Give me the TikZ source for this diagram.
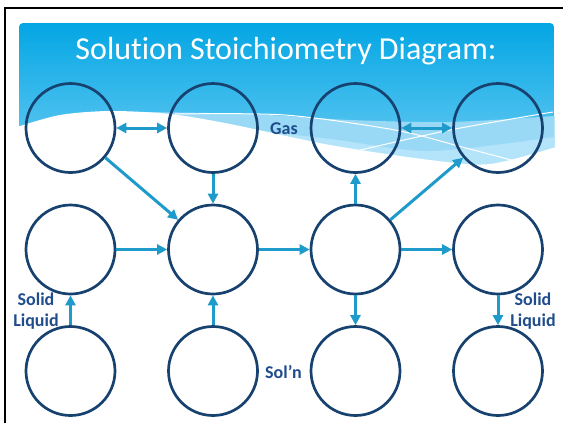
\documentclass[tikz,border=0pt]{standalone}
\usepackage{fontspec}
\setmainfont{Carlito}[Ligatures=NoCommon]
\usetikzlibrary{arrows.meta}
\definecolor{ringblue}{HTML}{17426F}
\definecolor{arrowblue}{HTML}{1E9ACB}
\definecolor{labelblue}{HTML}{1F4C8C}
\definecolor{bannertop}{HTML}{03A6E4}
\definecolor{bannerlow}{HTML}{74CFF4}
\definecolor{bandblue}{HTML}{9AD9F6}
\definecolor{bandpale}{HTML}{B4E4FA}
\tikzset{
  ring/.style={circle, draw=ringblue, line width=2.7pt, minimum size=89pt, inner sep=0pt},
  flow/.style={draw=arrowblue, line width=3pt, -{Triangle[length=10pt,width=10pt]}},
  twoway/.style={flow, {Triangle[length=10pt,width=10pt]}-{Triangle[length=10pt,width=10pt]}},
  tag/.style={text=labelblue, font=\bfseries\fontsize{18}{21}\selectfont, align=center, inner sep=0pt},
}
\begin{document}
\begin{tikzpicture}[x=1pt,y=-1pt]
\useasboundingbox (0,0) rectangle (565,423);
\shade[top color=bannertop, bottom color=bannerlow, rounded corners=4pt] (19,23) rectangle (554,178);
\fill[bandblue] plot[smooth] coordinates {(140,112) (250,114) (350,120) (450,122) (554.5,116)} -- (554.5,170) -- (140,170) -- cycle;
\fill[bandpale] plot[smooth] coordinates {(200,124) (330,139) (430,151) (554.5,137)} -- (554.5,170) -- (200,170) -- cycle;
\fill[white] plot[smooth] coordinates {(17,127) (60,115) (110,111) (170,114) (230,124) (330,145) (430,160) (490,164) (556,147)} -- (556,182) -- (17,182) -- cycle;
\draw[white, line width=1pt] plot[smooth] coordinates {(175,114) (285,115) (395,130) (462,147) (515,161)};
\draw[white, line width=1pt] plot[smooth] coordinates {(352,152) (450,130) (553,112)};
\draw[black, line width=2pt] (5,423) -- (5,7.5) -- (563,7.5);
\node[text=white, font=\fontsize{32}{38}\selectfont] (title) at (286,51) {Solution Stoichiometry Diagram:};
\node[ring] (g1) at (70.5,128) {};
\node[ring] (g2) at (213,128) {};
\node[ring] (g3) at (355.5,128) {};
\node[ring] (g4) at (498,128) {};
\node[ring] (m1) at (70.5,249.5) {};
\node[ring] (m2) at (213,249.5) {};
\node[ring] (m3) at (355.5,249.5) {};
\node[ring] (m4) at (498,249.5) {};
\node[ring] (s1) at (70.5,371) {};
\node[ring] (s2) at (213,371) {};
\node[ring] (s3) at (355.5,371) {};
\node[ring] (s4) at (498,371) {};
\draw[twoway] (g1) -- (g2);
\draw[twoway] (g3) -- (g4);
\draw[flow] (g1) -- (m2);
\draw[flow] (g2) -- (m2);
\draw[flow] (m3) -- (g3);
\draw[flow] (m3) -- (g4);
\draw[flow] (m1) -- (m2);
\draw[flow] (m2) -- (m3);
\draw[flow] (m3) -- (m4);
\draw[flow] (s1) -- (m1);
\draw[flow] (s2) -- (m2);
\draw[flow] (m3) -- (s3);
\draw[flow] (m4) -- (s4);
\node[tag] (gas) at (284,129) {Gas};
\node[tag] (phaseL) at (36,311) {Solid\\Liquid};
\node[tag] (phaseR) at (533,311) {Solid\\Liquid};
\node[tag] (soln) at (283.5,372) {Sol’n};
\end{tikzpicture}
\end{document}
